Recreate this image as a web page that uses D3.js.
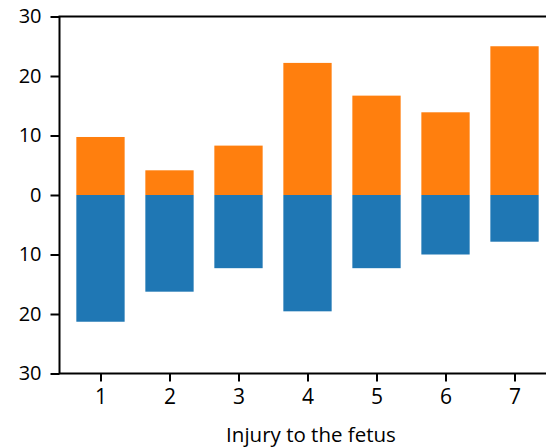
<!DOCTYPE html>
<html><head><meta charset="utf-8">
<script src="https://cdn.jsdelivr.net/npm/d3@7"></script>
<style>body{margin:0;background:#fff}svg{display:block}text{font-family:"Open Sans",sans-serif;fill:#000}</style>
</head><body><svg id="c" width="546" height="447"></svg>
<script>
const categories = [1, 2, 3, 4, 5, 6, 7];
const upper = [9.75, 4.15, 8.3, 22.2, 16.7, 13.9, 25.0];
const lower = [21.3, 16.25, 12.3, 19.55, 12.3, 10.0, 7.85];
const yTicks = [-30, -20, -10, 0, 10, 20, 30];
const xLabel = "Injury to the fetus";

const svg = d3.select("#c");
const L = 59.5, R = 555.5, T = 16.5, B = 373.5;
const x = d3.scaleLinear().domain([0.406, 7.594]).range([L, R]);
const y = d3.scaleLinear().domain([-30, 30]).range([B, T]);
const bw = 0.7;

const g = svg.append("g");
g.selectAll("rect.up").data(categories).join("rect")
  .attr("x", (d) => x(d - bw / 2)).attr("width", x(bw) - x(0))
  .attr("y", (d, i) => y(upper[i])).attr("height", (d, i) => y(0) - y(upper[i]))
  .attr("fill", "#ff7f0e");
g.selectAll("rect.dn").data(categories).join("rect")
  .attr("x", (d) => x(d - bw / 2)).attr("width", x(bw) - x(0))
  .attr("y", y(0)).attr("height", (d, i) => y(-lower[i]) - y(0))
  .attr("fill", "#1f77b4");

svg.append("rect").attr("x", L).attr("y", T).attr("width", R - L).attr("height", B - T)
  .attr("fill", "none").attr("stroke", "#000").attr("stroke-width", 2);

const ya = d3.axisLeft(y).tickValues(yTicks).tickSize(9).tickPadding(9)
  .tickFormat((d) => Math.abs(d));
const yg = svg.append("g").attr("transform", `translate(${L},0)`).call(ya);
yg.attr("font-size", null).attr("font-family", null);
yg.select(".domain").remove();
yg.selectAll("line").attr("stroke-width", 2);
yg.selectAll("text").attr("font-size", 20).style("font-size", "20px").attr("fill", "#000");

const xa = d3.axisBottom(x).tickValues(categories).tickSize(8).tickPadding(8)
  .tickFormat(d3.format("d"));
const xg = svg.append("g").attr("transform", `translate(0,${B})`).call(xa);
xg.attr("font-size", null).attr("font-family", null);
xg.select(".domain").remove();
xg.selectAll("line").attr("stroke-width", 2);
xg.selectAll("text").attr("font-size", 21).style("font-size", "21px").attr("fill", "#000");

svg.append("text").attr("x", 311).attr("y", 441.5).attr("text-anchor", "middle")
  .style("font-size", "20.5px").text(xLabel);
</script></body></html>
